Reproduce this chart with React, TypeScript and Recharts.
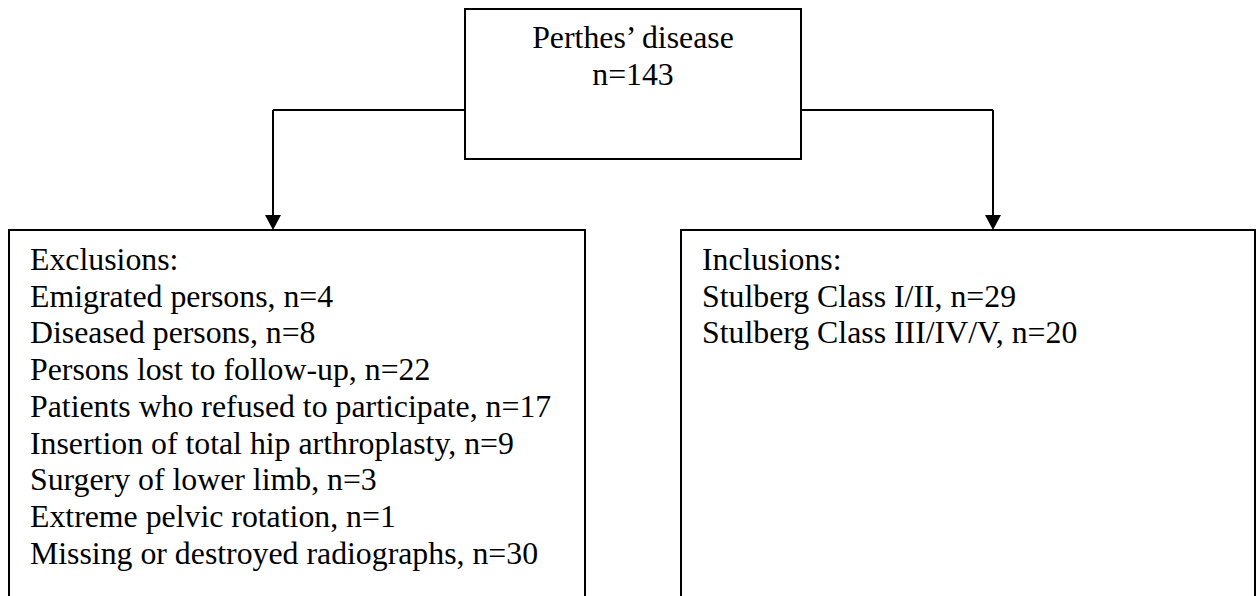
import React from 'react'
import { ScatterChart, Scatter, XAxis, YAxis, ReferenceArea, ReferenceLine } from 'recharts';

// flowchart content
const totalLabel = "Perthes’ disease";
const totalCount = 143;

const exclusionTitle = 'Exclusions:';
const exclusionReasons = [
    'Emigrated persons',
    'Diseased persons',
    'Persons lost to follow-up',
    'Patients who refused to participate',
    'Insertion of total hip arthroplasty',
    'Surgery of lower limb',
    'Extreme pelvic rotation',
    'Missing or destroyed radiographs',
];
const exclusionCounts = [4, 8, 22, 17, 9, 3, 1, 30];

const inclusionTitle = 'Inclusions:';
const inclusionGroups = ['Stulberg Class I/II', 'Stulberg Class III/IV/V'];
const inclusionCounts = [29, 20];

// layout (pixel space of the picture)
const W = 1256;
const H = 596;
const FONT = '"Liberation Serif", "Times New Roman", serif';
const FONT_SIZE = 31.8;
const LINE_H = 36.7;
const FIRST_BASE = 270;

const topBox = { x1: 465, x2: 801, y1: 9, y2: 159 };
const leftBox = { x1: 9, x2: 585, y1: 230, y2: 620 };
const rightBox = { x1: 681, x2: 1255, y1: 230, y2: 620 };
const branchY = 110;
const leftArrowX = 273;
const rightArrowX = 993;

type Row = { x: number, y: number, label: string, anchor: string };

const headerRows: Row[] = [
    { x: 633, y: 48, label: totalLabel, anchor: 'middle' },
    { x: 633, y: 85, label: `n=${totalCount}`, anchor: 'middle' },
];

const listRows = (left: number, title: string, names: string[], counts: number[]): Row[] => [
    { x: left, y: FIRST_BASE, label: title, anchor: 'start' },
    ...names.map((name, i) => ({
        x: left,
        y: FIRST_BASE + (i + 1) * LINE_H,
        label: `${name}, n=${counts[i]}`,
        anchor: 'start',
    })),
];

const exclusionRows = listRows(30, exclusionTitle, exclusionReasons, exclusionCounts);
const inclusionRows = listRows(702, inclusionTitle, inclusionGroups, inclusionCounts);

const arrowTips = [
    { x: leftArrowX, y: leftBox.y1 },
    { x: rightArrowX, y: rightBox.y1 },
];

const TextShape = (props: any) => {
    const { cx, cy, payload } = props;
    return (
        <text
            x={cx}
            y={cy}
            textAnchor={payload.anchor}
            fontFamily={FONT}
            fontSize={FONT_SIZE}
            fill='#000'
        >
            {payload.label}
        </text>
    );
};

const ArrowHead = (props: any) => {
    const { cx, cy } = props;
    return <path d={`M${cx - 8},${cy - 15} L${cx + 8},${cy - 15} L${cx},${cy} Z`} fill='#000' />;
};

const box = (b: typeof topBox, key: string) => (
    <ReferenceArea
        key={key}
        x1={b.x1}
        x2={b.x2}
        y1={b.y1}
        y2={b.y2}
        ifOverflow='visible'
        fill='#fff'
        fillOpacity={1}
        stroke='#000'
        strokeWidth={2}
    />
);

const App = () => {
    return (
        <div style={{ position: 'absolute', left: 0, top: 0, background: '#fff' }}>
            <ScatterChart width={W} height={H} margin={{ top: 0, right: 0, bottom: 0, left: 0 }}>
                <XAxis type='number' dataKey='x' domain={[0, W]} hide />
                <YAxis type='number' dataKey='y' domain={[0, H]} reversed hide />

                {box(topBox, 'top')}
                {box(leftBox, 'left')}
                {box(rightBox, 'right')}

                <ReferenceLine
                    segment={[{ x: leftArrowX, y: branchY }, { x: topBox.x1, y: branchY }]}
                    stroke='#000' strokeWidth={2} ifOverflow='visible'
                />
                <ReferenceLine
                    segment={[{ x: topBox.x2, y: branchY }, { x: rightArrowX, y: branchY }]}
                    stroke='#000' strokeWidth={2} ifOverflow='visible'
                />
                <ReferenceLine
                    segment={[{ x: leftArrowX, y: branchY }, { x: leftArrowX, y: leftBox.y1 - 10 }]}
                    stroke='#000' strokeWidth={2} ifOverflow='visible'
                />
                <ReferenceLine
                    segment={[{ x: rightArrowX, y: branchY }, { x: rightArrowX, y: rightBox.y1 - 10 }]}
                    stroke='#000' strokeWidth={2} ifOverflow='visible'
                />

                <Scatter data={arrowTips} shape={ArrowHead} isAnimationActive={false} />
                <Scatter data={headerRows} shape={TextShape} isAnimationActive={false} />
                <Scatter data={exclusionRows} shape={TextShape} isAnimationActive={false} />
                <Scatter data={inclusionRows} shape={TextShape} isAnimationActive={false} />
            </ScatterChart>
        </div>
    )
}

export default App
